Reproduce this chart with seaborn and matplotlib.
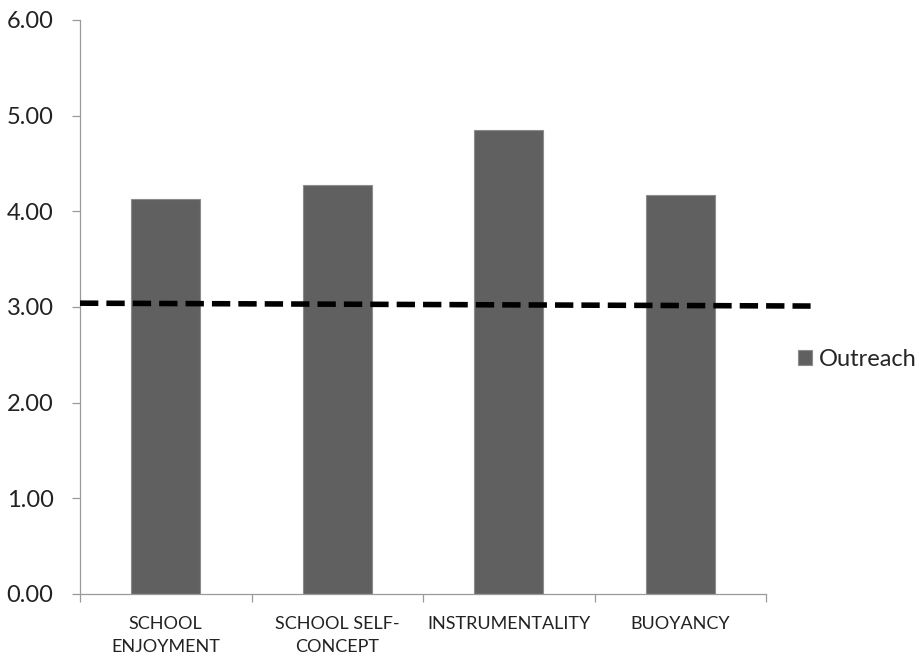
import matplotlib
matplotlib.use("Agg")
import matplotlib.pyplot as plt
import seaborn as sns
import pandas as pd

# Mean scores per motivation measure
categories = ["SCHOOL\nENJOYMENT", "SCHOOL SELF-\nCONCEPT", "INSTRUMENTALITY", "BUOYANCY"]
outreach = [4.13, 4.28, 4.85, 4.17]
series_name = "Outreach"

# Reference level drawn as a dashed line across the chart
ref_x = [-0.5, 3.76]
ref_y = [3.04, 3.01]

y_ticks = [0, 1, 2, 3, 4, 5, 6]

sns.set_theme(style="white")
plt.rcParams["font.family"] = ["Lato", "DejaVu Sans"]

df = pd.DataFrame({"measure": categories, "score": outreach})

fig = plt.figure(figsize=(9.19, 6.57), dpi=100)
ax = fig.add_axes([80 / 919, 1 - 594 / 657, (766 - 80) / 919, (594 - 20) / 657])

sns.barplot(data=df, x="measure", y="score", color="#606060", saturation=1,
            width=0.4, edgecolor="#8c8c8c", linewidth=0.8, label=series_name, ax=ax)

line, = ax.plot(ref_x, ref_y, color="black", linewidth=4.0, clip_on=False, zorder=5,
                solid_capstyle="butt", dash_capstyle="butt")
line.set_dashes([3.3, 1.45])

ax.set_xlim(-0.5, 3.5)
ax.set_ylim(0, 6)
ax.set_yticks(y_ticks)
ax.set_yticklabels([f"{v:.2f}" for v in y_ticks], fontsize=17, color="#222222")
ax.set_xlabel("")
ax.set_ylabel("")

# Category labels centred, tick marks on the category boundaries
ax.set_xticks(range(len(categories)))
ax.set_xticklabels(categories, fontsize=13, color="#222222", linespacing=1.6)
ax.set_xticks([-0.5, 0.5, 1.5, 2.5, 3.5], minor=True)
ax.tick_params(axis="x", which="major", length=0, pad=15.5)
ax.tick_params(axis="x", which="minor", length=6, width=0.9, color="#9a9a9a", direction="out", bottom=True)
ax.tick_params(axis="y", which="major", length=6, width=0.9, color="#9a9a9a", direction="out", left=True, pad=13)

for side in ["top", "right"]:
    ax.spines[side].set_visible(False)
for side in ["left", "bottom"]:
    ax.spines[side].set_color("#9a9a9a")
    ax.spines[side].set_linewidth(0.9)

handles, labels = ax.get_legend_handles_labels()
keep = [(h, l) for h, l in zip(handles, labels) if l == series_name]
ax.legend([keep[0][0]], [keep[0][1]], loc="center left",
          bbox_to_anchor=(798 / 919, 1 - 359 / 657), bbox_transform=fig.transFigure,
          frameon=False, fontsize=17, handlelength=0.6, handleheight=0.6,
          handletextpad=0.3, borderpad=0, borderaxespad=0)

fig.savefig("out.png", dpi=100)
